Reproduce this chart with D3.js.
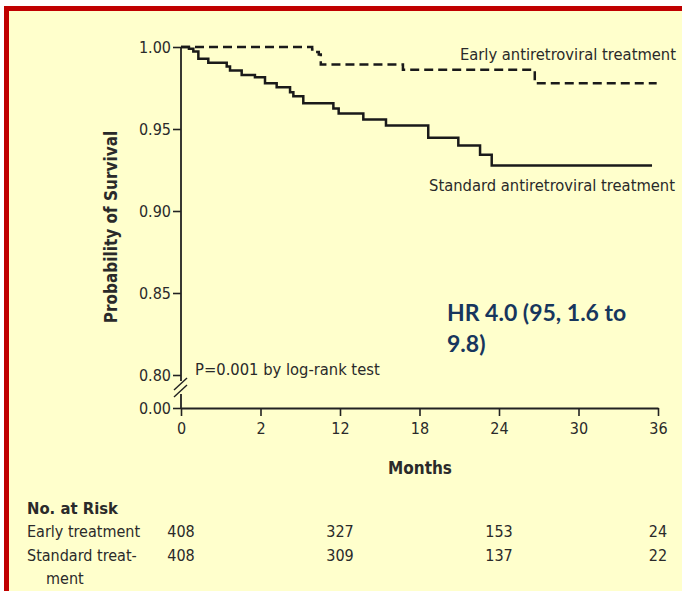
<!DOCTYPE html>
<html>
<head>
<meta charset="utf-8">
<script src="https://cdn.jsdelivr.net/npm/d3@7"></script>
<style>
  html, body { margin: 0; padding: 0; background: #fff; }
  svg { display: block; }
  .lbl { font-family: "Liberation Sans Narrow", "DejaVu Sans Condensed", sans-serif; fill: #2a2a2a; }
</style>
</head>
<body>
<svg id="chart" width="682" height="591"></svg>
<script>
// ---------- data ----------
const xTickValues = [0, 6, 12, 18, 24, 30, 36];
const xTickLabels = ["0", "2", "12", "18", "24", "30", "36"];
const yTickValues = [0.80, 0.85, 0.90, 0.95, 1.00];

const earlyTimes  = [0, 9.9, 10.15, 10.4, 10.55, 16.75, 26.7, 35.9];
const earlyValues = [1.0, 0.9985, 0.997, 0.9955, 0.9893, 0.9861, 0.9779, 0.9779];

const standardTimes  = [0, 0.6, 0.93, 1.31, 2.06, 3.45, 3.70, 4.58, 5.58, 6.34, 7.22, 8.23, 8.48, 9.23, 11.5, 11.9, 13.76, 15.47, 18.66, 20.93, 22.57, 23.45, 35.55];
const standardValues = [1.0, 0.9989, 0.9973, 0.9928, 0.9904, 0.9881, 0.9857, 0.9830, 0.9816, 0.9779, 0.9755, 0.9724, 0.9700, 0.9657, 0.9625, 0.9595, 0.9558, 0.9521, 0.9446, 0.9399, 0.9343, 0.9277, 0.9277];

const riskTimes = [0, 12, 24, 36];
const riskEarly = [408, 327, 153, 24];
const riskStandard = [408, 309, 137, 22];

// ---------- drawing ----------
const svg = d3.select("#chart");

// background + border
svg.append("rect").attr("x", 4).attr("y", 6).attr("width", 700).attr("height", 600)
  .attr("fill", "#FFFFCC");
svg.append("rect").attr("x", 4).attr("y", 6).attr("width", 690).attr("height", 5).attr("fill", "#C00000");
svg.append("rect").attr("x", 4).attr("y", 6).attr("width", 5).attr("height", 600).attr("fill", "#C00000");

const x = d3.scaleLinear().domain([0, 36]).range([181, 658]);
const y = d3.scaleLinear().domain([0.80, 1.00]).range([375, 47]);
const yLow = d3.scaleLinear().domain([0, 0.01]).range([408, 398]);
const axisY0 = 408;

const axisColor = "#222";

// y axis (upper part)
const gy = svg.append("g").attr("transform", `translate(${x(0)},0)`)
  .call(d3.axisLeft(y).tickValues(yTickValues).tickFormat(d3.format(".2f")).tickSize(8).tickSizeOuter(0).tickPadding(2));
gy.select(".domain").remove();
gy.selectAll("line").attr("stroke", axisColor).attr("stroke-width", 1.6);
gy.selectAll("text").attr("class", "lbl").style("font-size", "16px").attr("fill", "#333");

// y axis (0.00 part)
const gy2 = svg.append("g").attr("transform", `translate(${x(0)},0)`)
  .call(d3.axisLeft(yLow).tickValues([0]).tickFormat(d3.format(".2f")).tickSize(8).tickSizeOuter(0).tickPadding(2));
gy2.select(".domain").remove();
gy2.selectAll("line").attr("stroke", axisColor).attr("stroke-width", 1.6);
gy2.selectAll("text").attr("class", "lbl").style("font-size", "16px").attr("fill", "#333");

// vertical axis line with break
svg.append("line").attr("x1", x(0)).attr("x2", x(0)).attr("y1", y(1.0)).attr("y2", y(0.80) + 6)
  .attr("stroke", axisColor).attr("stroke-width", 1.8);
svg.append("line").attr("x1", x(0)).attr("x2", x(0)).attr("y1", y(0.80) + 19).attr("y2", axisY0)
  .attr("stroke", axisColor).attr("stroke-width", 1.8);
[0, 7].forEach(off => {
  svg.append("line")
    .attr("x1", x(0) - 7).attr("y1", y(0.80) + 15 + off)
    .attr("x2", x(0) + 6).attr("y2", y(0.80) + 3 + off)
    .attr("stroke", axisColor).attr("stroke-width", 1.4);
});

// x axis
const gx = svg.append("g").attr("transform", `translate(0,${axisY0})`)
  .call(d3.axisBottom(x).tickValues(xTickValues).tickFormat((d, i) => xTickLabels[i]).tickSize(8).tickSizeOuter(0).tickPadding(7));
gx.select(".domain").attr("stroke", axisColor).attr("stroke-width", 1.8);
gx.selectAll("line").attr("stroke", axisColor).attr("stroke-width", 1.6);
gx.selectAll("text").attr("class", "lbl").style("font-size", "16px").attr("fill", "#333");

// curves
const line = d3.line().x(d => x(d[0])).y(d => y(d[1])).curve(d3.curveStepAfter);
const earlyData = earlyTimes.map((t, i) => [t, earlyValues[i]]);
const stdData = standardTimes.map((t, i) => [t, standardValues[i]]);

svg.append("path").datum(stdData).attr("d", line)
  .attr("fill", "none").attr("stroke", "#1a1a1a").attr("stroke-width", 2.5);
svg.append("path").datum(earlyData).attr("d", line)
  .attr("fill", "none").attr("stroke", "#1a1a1a").attr("stroke-width", 2.5)
  .attr("stroke-dasharray", "9,5");

// curve labels
svg.append("text").attr("class", "lbl").attr("x", 676).attr("y", 60).attr("text-anchor", "end")
  .style("font-size", "16.4px").text("Early antiretroviral treatment");
svg.append("text").attr("class", "lbl").attr("x", 675).attr("y", 191).attr("text-anchor", "end")
  .style("font-size", "16.4px").text("Standard antiretroviral treatment");
svg.append("text").attr("class", "lbl").attr("x", 195).attr("y", 375)
  .style("font-size", "16.4px").text("P=0.001 by log-rank test");

// axis titles
svg.append("text").attr("class", "lbl").attr("transform", `translate(117,227) rotate(-90)`)
  .attr("text-anchor", "middle").style("font-size", "17px").style("font-weight", "bold")
  .text("Probability of Survival");
svg.append("text").attr("class", "lbl").attr("x", 420).attr("y", 474).attr("text-anchor", "middle")
  .style("font-size", "17px").style("font-weight", "bold").text("Months");

// HR annotation
const hr = svg.append("text").style("font-family", "Lato, 'Open Sans', sans-serif")
  .style("font-size", "23px").style("font-weight", "bold").attr("fill", "#17365D");
hr.append("tspan").attr("x", 447).attr("y", 321).text("HR 4.0 (95, 1.6 to");
hr.append("tspan").attr("x", 447).attr("y", 352).text("9.8)");

// No. at risk table
svg.append("text").attr("class", "lbl").attr("x", 27).attr("y", 514)
  .style("font-size", "16.5px").style("font-weight", "bold").text("No. at Risk");
svg.append("text").attr("class", "lbl").attr("x", 27).attr("y", 537).style("font-size", "16px").text("Early treatment");
svg.append("text").attr("class", "lbl").attr("x", 27).attr("y", 561).style("font-size", "16px").text("Standard treat-");
svg.append("text").attr("class", "lbl").attr("x", 46).attr("y", 584).style("font-size", "16px").text("ment");

svg.selectAll(".riskE").data(riskTimes).join("text").attr("class", "lbl riskE")
  .attr("x", d => x(d)).attr("y", 537).attr("text-anchor", "middle").style("font-size", "16px")
  .text((d, i) => riskEarly[i]);
svg.selectAll(".riskS").data(riskTimes).join("text").attr("class", "lbl riskS")
  .attr("x", d => x(d)).attr("y", 561).attr("text-anchor", "middle").style("font-size", "16px")
  .text((d, i) => riskStandard[i]);
</script>
</body>
</html>
